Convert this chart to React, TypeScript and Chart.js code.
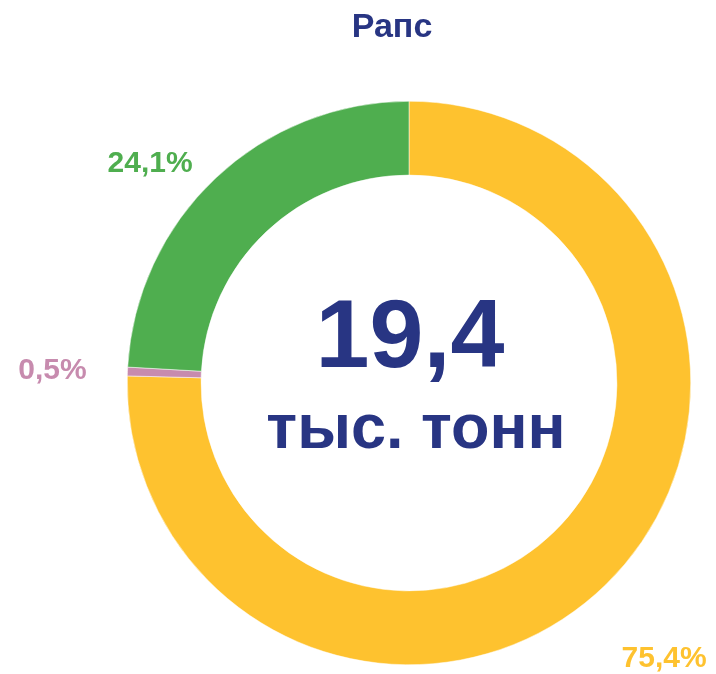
import React, { useEffect, useRef } from "react";
import { Chart, registerables } from "chart.js";

Chart.register(...registerables);

const title = "Рапс";
const categories = ["Категория 1", "Категория 2", "Категория 3"];
const shares = [75.4, 0.5, 24.1];
const shareLabels = ["75,4%", "0,5%", "24,1%"];
const colors = ["#FEC22F", "#C78BAE", "#4FAE4F"];
const centerValue = "19,4";
const centerUnit = "тыс. тонн";

// label placement relative to the arc (radius factor, angle shift in degrees)
const labelRadiusFactor = [1.333, 1.266, 1.205];
const labelAngleShift = [1.5, -0.4, -6.3];

const FONT = "Arial, 'Liberation Sans', sans-serif";
const DARK = "#283583";

export default function App() {
  const ref = useRef<HTMLCanvasElement | null>(null);

  useEffect(() => {
    if (!ref.current) return;
    const textPlugin = {
      id: "textPlugin",
      afterDraw(chart: any) {
        const ctx = chart.ctx;
        const meta = chart.getDatasetMeta(0);
        const first = meta.data[0];
        const cx = first.x;
        const cy = first.y;
        const R = first.outerRadius;
        ctx.save();
        ctx.textAlign = "center";
        ctx.textBaseline = "alphabetic";
        ctx.fillStyle = DARK;
        ctx.font = `bold 34px ${FONT}`;
        ctx.fillText(title, 392, 37);
        ctx.font = `bold 97px ${FONT}`;
        ctx.fillText(centerValue, cx + 1, cy - 16);
        ctx.font = `bold 63px ${FONT}`;
        ctx.fillText(centerUnit, cx + 7, cy + 65);
        ctx.textBaseline = "middle";
        ctx.font = `bold 30px ${FONT}`;
        meta.data.forEach((arc: any, i: number) => {
          const mid = (arc.startAngle + arc.endAngle) / 2 + (labelAngleShift[i] * Math.PI) / 180;
          const r = R * labelRadiusFactor[i];
          const x = cx + Math.cos(mid) * r;
          const y = cy + Math.sin(mid) * r;
          ctx.fillStyle = colors[i];
          ctx.fillText(shareLabels[i], x, y);
        });
        ctx.restore();
      },
    };
    const chart = new Chart(ref.current, {
      type: "doughnut",
      data: {
        labels: categories,
        datasets: [
          {
            data: shares,
            backgroundColor: colors,
            borderColor: "#ffffff",
            borderWidth: 0.5,
          },
        ],
      },
      options: {
        responsive: false,
        animation: false,
        cutout: "73.8%",
        layout: { padding: { left: 127, right: 25, top: 101, bottom: 9 } },
        plugins: {
          legend: { display: false },
          title: { display: false },
          tooltip: { enabled: false },
        },
      },
      plugins: [textPlugin],
    });
    return () => chart.destroy();
  }, []);

  return (
    <div style={{ position: "absolute", left: 0, top: 0, width: 716, height: 674, background: "#fff" }}>
      <canvas ref={ref} width={716} height={674} style={{ display: "block" }} />
    </div>
  );
}
